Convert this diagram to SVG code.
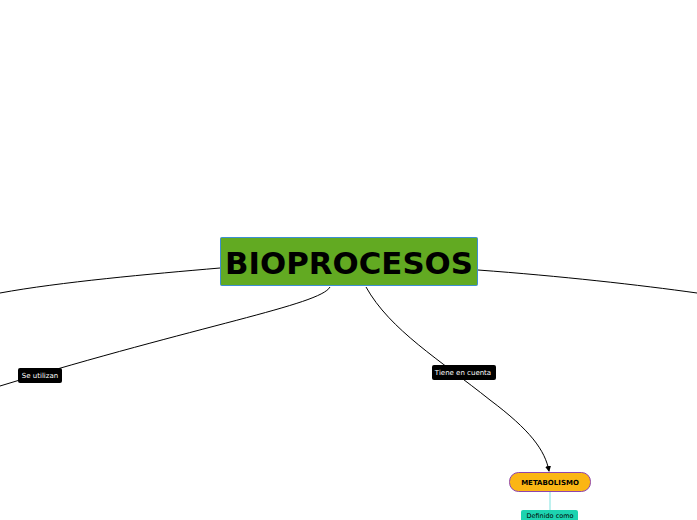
<svg xmlns="http://www.w3.org/2000/svg" width="697" height="520" viewBox="0 0 697 520">
<style>
.c{fill:none;stroke:#000;stroke-width:1}
.lbl{fill:#000}
.lt{font-family:"DejaVu Sans",sans-serif;font-size:7px;fill:#fff}
</style>
<defs><marker id="a" markerWidth="6" markerHeight="6" refX="5" refY="3" orient="auto"><path d="M0,0L6,3L0,6z" fill="#000"/></marker></defs>
<rect width="697" height="520" fill="#fff"/>
<g id="connectors">
<path class="c" d="M220,268 C150,274 60,282 0,293"/>
<path class="c" d="M478,270 C560,276 640,285 697,293"/>
<path class="c" d="M330,287 C320,305 200,325 0,386"/>
<path class="c" d="M366,287 C390,330 440,360 490,400 C530,430 545,450 549,471" marker-end="url(#a)"/>
<path d="M550,492 L550,511" stroke="#7fe3e0" stroke-width="1"/>
</g>
<g id="bioprocesos">
<rect x="220.5" y="237.5" width="257" height="48" rx="1" fill="#62aa22" stroke="#3d8fd4" stroke-width="1"/>
<text x="349" y="274" text-anchor="middle" textLength="248" lengthAdjust="spacingAndGlyphs" font-family="DejaVu Sans,sans-serif" font-weight="bold" font-size="31" fill="#000">BIOPROCESOS</text>
</g>
<g id="se-utilizan">
<rect class="lbl" x="18" y="368" width="44" height="15" rx="2"/>
<text class="lt" x="40" y="378" text-anchor="middle">Se utilizan</text>
</g>
<g id="tiene-en-cuenta">
<rect class="lbl" x="432" y="365" width="64" height="15" rx="2"/>
<text class="lt" x="463" y="375" text-anchor="middle">Tiene en cuenta</text>
</g>
<g id="metabolismo">
<rect x="509.5" y="472.5" width="81" height="19" rx="9" fill="#fbb614" stroke="#8e44ad" stroke-width="1"/>
<text x="550" y="485" text-anchor="middle" font-family="DejaVu Sans,sans-serif" font-weight="bold" font-size="7" fill="#000">METABOLISMO</text>
</g>
<g id="definido-como">
<rect x="521" y="510" width="57" height="16" rx="2" fill="#1dd3b0"/>
<text x="550" y="518" text-anchor="middle" font-family="DejaVu Sans,sans-serif" font-size="6.5" fill="#000">Definido como</text>
</g>
</svg>
